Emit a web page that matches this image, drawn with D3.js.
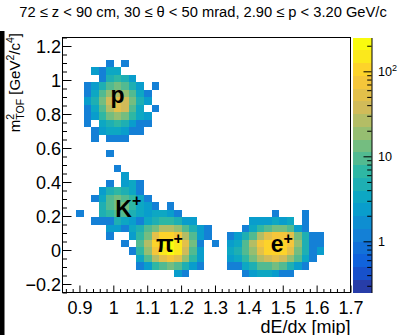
<!DOCTYPE html>
<html>
<head>
<meta charset="utf-8">
<script src="https://cdn.jsdelivr.net/npm/d3@7"></script>
<style>
  body { margin: 0; background: #fff; }
  svg { display: block; font-family: "Liberation Sans", Arial, sans-serif; }
</style>
</head>
<body>
<svg id="chart" width="400" height="335"></svg>
<script>
// binning of the 2D histogram: x = dE/dx [mip], y = m2 TOF [GeV2/c4]
const xBinLow = 0.847, xBinWidth = 0.02214;
const yBinLow = -0.25, yBinWidth = 0.04412;

// counts, rows go from high m2 to low m2, start = [x bin, y bin of the first row]
const protonStart = [3, 30];
const protonCounts = [
  [0, 0, 0, 1, 0, 1, 0, 0, 0, 0],
  [0, 2, 1, 3, 3, 0, 0, 0, 0, 0],
  [0, 0, 1, 4, 6, 4, 2, 0, 0, 0],
  [1, 2, 5, 10, 12, 8, 4, 2, 0, 1],
  [1, 3, 8, 18, 25, 18, 8, 3, 1, 0],
  [2, 4, 12, 32, 50, 35, 12, 4, 2, 0],
  [1, 3, 10, 30, 45, 32, 10, 3, 0, 1],
  [1, 2, 6, 15, 20, 15, 6, 3, 2, 0],
  [1, 0, 3, 5, 6, 4, 2, 1, 1, 0],
  [0, 1, 2, 3, 3, 2, 1, 1, 0, 0],
  [0, 1, 0, 1, 1, 1, 0, 0, 0, 0],
  [0, 0, 0, 0, 0, 0, 0, 0, 0, 0],
  [0, 0, 0, 1, 0, 0, 0, 0, 0, 0]
];

const kaonPionStart = [2, 16];
const kaonPionCounts = [
  [0, 0, 0, 0, 0, 1, 0, 0, 0, 0, 0, 0, 0, 0, 0, 0, 0, 0],
  [0, 0, 0, 0, 0, 0, 2, 0, 0, 0, 0, 0, 0, 0, 0, 0, 0, 0],
  [0, 0, 0, 0, 1, 0, 2, 3, 1, 0, 0, 0, 0, 0, 0, 0, 0, 0],
  [0, 0, 0, 2, 4, 6, 4, 3, 1, 0, 0, 0, 0, 0, 0, 0, 0, 0],
  [0, 0, 1, 3, 8, 12, 10, 6, 3, 1, 0, 0, 0, 0, 0, 0, 0, 0],
  [0, 0, 0, 4, 8, 14, 12, 6, 3, 2, 1, 0, 1, 0, 0, 0, 0, 0],
  [1, 0, 0, 4, 6, 10, 8, 5, 3, 2, 3, 3, 2, 1, 0, 0, 0, 0],
  [0, 0, 1, 1, 1, 4, 3, 2, 1, 3, 5, 6, 6, 4, 2, 2, 0, 0],
  [0, 0, 0, 0, 2, 2, 1, 3, 4, 8, 15, 25, 30, 22, 10, 5, 2, 1],
  [0, 0, 0, 0, 1, 0, 0, 2, 6, 15, 50, 90, 110, 80, 30, 8, 2, 1],
  [0, 0, 0, 0, 0, 0, 1, 0, 8, 25, 100, 190, 220, 150, 50, 12, 1, 0],
  [0, 0, 0, 0, 0, 0, 0, 1, 6, 20, 80, 170, 200, 130, 40, 10, 2, 0],
  [0, 0, 0, 0, 0, 0, 0, 0, 3, 10, 30, 55, 65, 45, 18, 6, 2, 0],
  [0, 0, 0, 0, 0, 0, 0, 0, 1, 2, 6, 10, 12, 8, 4, 2, 1, 0],
  [0, 0, 0, 0, 0, 0, 0, 0, 0, 0, 0, 0, 0, 2, 1, 0, 0, 0]
];

const electronStart = [20, 10];
const electronCounts = [
  [0, 0, 0, 0, 0, 0, 0, 0, 1, 0, 0, 0, 1, 0, 0],
  [0, 0, 0, 0, 0, 2, 2, 2, 3, 2, 3, 0, 1, 0, 0],
  [0, 0, 0, 0, 1, 3, 6, 10, 14, 12, 8, 2, 1, 0, 0],
  [0, 0, 1, 2, 4, 10, 30, 60, 80, 75, 45, 12, 4, 1, 1],
  [1, 0, 2, 3, 8, 25, 70, 115, 125, 115, 75, 20, 5, 1, 1],
  [0, 0, 3, 4, 8, 20, 60, 100, 110, 95, 55, 15, 4, 1, 2],
  [0, 0, 2, 3, 6, 12, 25, 40, 45, 38, 22, 8, 3, 1, 0],
  [0, 0, 1, 1, 3, 5, 8, 10, 12, 8, 5, 2, 1, 0, 0],
  [0, 0, 0, 0, 1, 2, 3, 3, 2, 1, 1, 0, 0, 0, 0]
];

const xTicks = [0.9, 1, 1.1, 1.2, 1.3, 1.4, 1.5, 1.6, 1.7];
const yTicks = [-0.2, 0, 0.2, 0.4, 0.6, 0.8, 1, 1.2];
const zTicks = [1, 10, 100];
const zTickLabels = [["1", ""], ["10", ""], ["10", "2"]];

const particles = [
  { name: "p", sup: "", x: 0.9914, y: 0.862, supDy: 0 },
  { name: "K", sup: "+", x: 1.0058, y: 0.197, supDy: -10.5 },
  { name: "\u03c0", sup: "+", x: 1.126, y: -0.012, supDy: -8 },
  { name: "e", sup: "+", x: 1.4648, y: -0.012, supDy: -8.5 }
];

const title = "72 \u2264 z < 90 cm, 30 \u2264 \u03b8 < 50 mrad, 2.90 \u2264 p < 3.20 GeV/c";

// ROOT kBird palette
const birdStops = [0, 0.125, 0.25, 0.375, 0.5, 0.625, 0.75, 0.875, 1];
const birdR = [0.2082, 0.0592, 0.0780, 0.0232, 0.1802, 0.5301, 0.8186, 0.9956, 0.9764];
const birdG = [0.1664, 0.3599, 0.5041, 0.6419, 0.7178, 0.7492, 0.7328, 0.7862, 0.9832];
const birdB = [0.5293, 0.8684, 0.8385, 0.7914, 0.6425, 0.4662, 0.3499, 0.1968, 0.0539];

const svg = d3.select('#chart');

const frameLeft = 62.5, frameRight = 350.5, frameTop = 37.5, frameBottom = 292.5,
    cbLeft = 353, cbRight = 371.5,
    nContours = 20, zMin = 0.25, zMax = 250;

const x = d3.scaleLinear().domain([0.85, 1.7]).range([frameLeft, frameRight]);
const y = d3.scaleLinear().domain([-0.25, 1.25]).range([frameBottom, frameTop]);
const zBand = d3.scaleLog().domain([zMin, zMax]).range([0, nContours]);
const zAxis = d3.scaleLog().domain([zMin, zMax]).range([frameBottom, frameTop]);

const bird = d3.scaleLinear()
    .domain(birdStops)
    .range(birdStops.map((s, i) => d3.rgb(birdR[i] * 255, birdG[i] * 255, birdB[i] * 255)));

function bandColor(i) {
    return bird(Math.floor((i + 0.99) * 255 / nContours) / 254);
}
function countColor(v) {
    let i = Math.floor(zBand(v) + 1e-9);
    return bandColor(Math.max(0, Math.min(nContours - 1, i)));
}

function toCells(start, counts) {
    let out = [];
    counts.forEach((row, r) => row.forEach((v, c) => {
        if (v > 0) out.push({ xb: start[0] + c, yb: start[1] - r, v: v });
    }));
    return out;
}

const cells = [].concat(
    toCells(protonStart, protonCounts),
    toCells(kaonPionStart, kaonPionCounts),
    toCells(electronStart, electronCounts));

svg.append('rect').attr('width', 400).attr('height', 335).attr('fill', '#fff');
// dark strip at the left border of the picture
svg.append('rect').attr('x', 0).attr('y', 31).attr('width', 4.5).attr('height', 304).attr('fill', '#000');

svg.append('g')
    .attr('shape-rendering', 'crispEdges')
    .selectAll('rect')
    .data(cells)
    .enter()
    .append('rect')
    .attr('x', d => x(xBinLow + d.xb * xBinWidth))
    .attr('width', d => x(xBinLow + (d.xb + 1) * xBinWidth) - x(xBinLow + d.xb * xBinWidth))
    .attr('y', d => y(yBinLow + (d.yb + 1) * yBinWidth))
    .attr('height', d => y(yBinLow + d.yb * yBinWidth) - y(yBinLow + (d.yb + 1) * yBinWidth))
    .attr('fill', d => countColor(d.v));

// particle labels
particles.forEach(p => {
    const t = svg.append('text')
        .attr('x', x(p.x))
        .attr('y', y(p.y))
        .attr('font-size', 23)
        .attr('font-weight', 'bold')
        .attr('fill', '#000')
        .text(p.name);
    if (p.sup) {
        t.append('tspan').attr('font-size', 16).attr('dy', p.supDy).text(p.sup);
    }
});

// frame
svg.append('rect')
    .attr('x', frameLeft).attr('y', frameTop)
    .attr('width', frameRight - frameLeft).attr('height', frameBottom - frameTop)
    .attr('fill', 'none').attr('stroke', '#000').attr('stroke-width', 1);

const fmt = d3.format('~g');

const xMinor = d3.range(43, 86).map(k => k * 0.02).filter(v => v <= 1.7001 && xTicks.every(t => Math.abs(t - v) > 1e-6));
svg.append('g')
    .attr('transform', `translate(0, ${frameBottom})`)
    .call(d3.axisBottom(x).tickValues(xMinor).tickSize(-3.5).tickSizeOuter(0).tickFormat(''))
    .call(g => g.select('.domain').remove());
const xAxisGroup = svg.append('g')
    .attr('transform', `translate(0, ${frameBottom})`)
    .call(d3.axisBottom(x).tickValues(xTicks).tickSize(-7).tickSizeOuter(0).tickPadding(9).tickFormat(fmt))
    .call(g => g.select('.domain').remove());
xAxisGroup.attr('font-size', 18).attr('font-family', null);

const yMinor = d3.range(-5, 26).map(k => k * 0.05).filter(v => yTicks.every(t => Math.abs(t - v) > 1e-6));
svg.append('g')
    .attr('transform', `translate(${frameLeft}, 0)`)
    .call(d3.axisLeft(y).tickValues(yMinor).tickSize(-4.5).tickSizeOuter(0).tickFormat(''))
    .call(g => g.select('.domain').remove());
const yAxisGroup = svg.append('g')
    .attr('transform', `translate(${frameLeft}, 0)`)
    .call(d3.axisLeft(y).tickValues(yTicks).tickSize(-9).tickSizeOuter(0).tickPadding(1.5).tickFormat(fmt))
    .call(g => g.select('.domain').remove());
yAxisGroup.attr('font-size', 18).attr('font-family', null);
yAxisGroup.selectAll('text').attr('dy', '0.36em');

// axis titles
svg.append('text')
    .attr('x', frameRight).attr('y', 332.5)
    .attr('text-anchor', 'end')
    .attr('font-size', 18)
    .text('dE/dx [mip]');

const yTitle = svg.append('text')
    .attr('transform', 'translate(20, 33) rotate(-90)')
    .attr('text-anchor', 'end')
    .attr('font-size', 15);
yTitle.append('tspan').text('m');
yTitle.append('tspan').attr('font-size', 10.5).attr('dy', -6.5).text('2');
yTitle.append('tspan').attr('font-size', 10.5).attr('dx', -5.8).attr('dy', 10.5).text('TOF');
yTitle.append('tspan').attr('dy', -4).text('\u00a0[GeV');
yTitle.append('tspan').attr('font-size', 10.5).attr('dy', -6.5).text('2');
yTitle.append('tspan').attr('dy', 6.5).text('/c');
yTitle.append('tspan').attr('font-size', 10.5).attr('dy', -6.5).text('4');
yTitle.append('tspan').attr('dy', 6.5).text(']');

// colour bar
const bandEdges = d3.range(nContours + 1).map(i => zMin * Math.pow(zMax / zMin, i / nContours));
svg.append('g')
    .attr('shape-rendering', 'crispEdges')
    .selectAll('rect')
    .data(d3.range(nContours))
    .enter()
    .append('rect')
    .attr('x', cbLeft)
    .attr('width', cbRight - cbLeft)
    .attr('y', i => zAxis(bandEdges[i + 1]))
    .attr('height', i => zAxis(bandEdges[i]) - zAxis(bandEdges[i + 1]))
    .attr('fill', i => bandColor(i));

const zMinor = [0.3, 0.4, 0.5, 0.6, 0.7, 0.8, 0.9, 2, 3, 4, 5, 6, 7, 8, 9, 20, 30, 40, 50, 60, 70, 80, 90, 200];
svg.append('g')
    .attr('transform', `translate(${cbRight}, 0)`)
    .call(d3.axisRight(zAxis).tickValues(zMinor).tickSize(-4.3).tickSizeOuter(0).tickFormat(''));
svg.append('g')
    .attr('transform', `translate(${cbRight}, 0)`)
    .call(d3.axisRight(zAxis).tickValues(zTicks).tickSize(-8).tickSizeOuter(0).tickFormat(''))
    .call(g => g.select('.domain').remove());

zTicks.forEach((v, i) => {
    const t = svg.append('text')
        .attr('x', 378)
        .attr('y', zAxis(v))
        .attr('dy', '0.36em')
        .attr('font-size', 12.6)
        .text(zTickLabels[i][0]);
    if (zTickLabels[i][1]) {
        t.append('tspan').attr('font-size', 9).attr('dy', -5).text(zTickLabels[i][1]);
    }
});

// title
svg.append('text')
    .attr('x', 203).attr('y', 17)
    .attr('text-anchor', 'middle')
    .attr('font-size', 14.7)
    .text(title);
</script>
</body>
</html>
